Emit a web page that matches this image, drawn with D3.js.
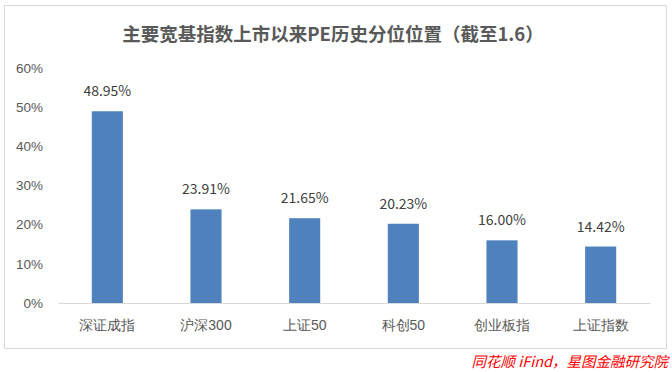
<!DOCTYPE html>
<html>
<head>
<meta charset="utf-8">
<script src="https://cdn.jsdelivr.net/npm/d3@7"></script>
<style>
  body { margin: 0; background: #fff; }
  svg { font-family: "Noto Sans CJK SC", "Noto Sans", sans-serif; }
</style>
</head>
<body>
<svg id="chart" width="672" height="372"></svg>
<script>
var categories = ["深证成指", "沪深300", "上证50", "科创50", "创业板指", "上证指数"];
var values = [48.95, 23.91, 21.65, 20.23, 16.00, 14.42];
var yTicks = [0, 10, 20, 30, 40, 50, 60];

var svg = d3.select("#chart");
var margin = {top: 68, right: 22, bottom: 69, left: 58},
    width = +svg.attr("width") - margin.left - margin.right,
    height = +svg.attr("height") - margin.top - margin.bottom;

// outer frame
svg.append("rect")
    .attr("x", 4.5).attr("y", 5.5)
    .attr("width", 662).attr("height", 343)
    .attr("fill", "#fff")
    .attr("stroke", "#d9d9d9");

svg.append("text")
    .attr("x", 333)
    .attr("y", 41)
    .attr("text-anchor", "middle")
    .style("font-size", "18.5px")
    .style("font-weight", "bold")
    .style("fill", "#595959")
    .text("主要宽基指数上市以来PE历史分位位置（截至1.6）");

var g = svg.append("g")
    .attr("transform", "translate(" + margin.left + "," + margin.top + ")");

var x = d3.scaleBand()
    .domain(categories)
    .range([0, width])
    .paddingInner(0.685)
    .paddingOuter(0.3425);

var y = d3.scaleLinear()
    .domain([0, 60])
    .range([height, 0]);

var yAxis = d3.axisLeft(y)
    .tickValues(yTicks)
    .tickSize(0)
    .tickPadding(15)
    .tickFormat(function(d) { return d + "%"; });

var gy = g.append("g").call(yAxis);
gy.select(".domain").remove();
gy.selectAll("text").style("font-size", "13.5px").style("fill", "#595959");

var xAxis = d3.axisBottom(x).tickSize(0).tickPadding(17);
var gx = g.append("g")
    .attr("transform", "translate(0," + height + ")")
    .call(xAxis);
gx.select(".domain").attr("stroke", "#d9d9d9");
gx.selectAll("text").style("font-size", "14px").style("fill", "#595959");

g.selectAll(".bar")
    .data(values)
    .enter().append("rect")
    .attr("class", "bar")
    .attr("x", function(d, i) { return x(categories[i]); })
    .attr("width", x.bandwidth())
    .attr("y", function(d) { return y(d); })
    .attr("height", function(d) { return height - y(d); })
    .attr("fill", "#4f81bd");

g.selectAll(".val")
    .data(values)
    .enter().append("text")
    .attr("class", "val")
    .attr("x", function(d, i) { return x(categories[i]) + x.bandwidth() / 2; })
    .attr("y", function(d) { return y(d) - 15; })
    .attr("text-anchor", "middle")
    .style("font-size", "14px")
    .style("fill", "#404040")
    .text(function(d) { return d.toFixed(2) + "%"; });

svg.append("text")
    .attr("x", 668)
    .attr("y", 367)
    .attr("text-anchor", "end")
    .style("font-size", "14.5px")
    .style("font-style", "italic")
    .style("fill", "#ff0000")
    .text("同花顺 iFind，星图金融研究院");
</script>
</body>
</html>
